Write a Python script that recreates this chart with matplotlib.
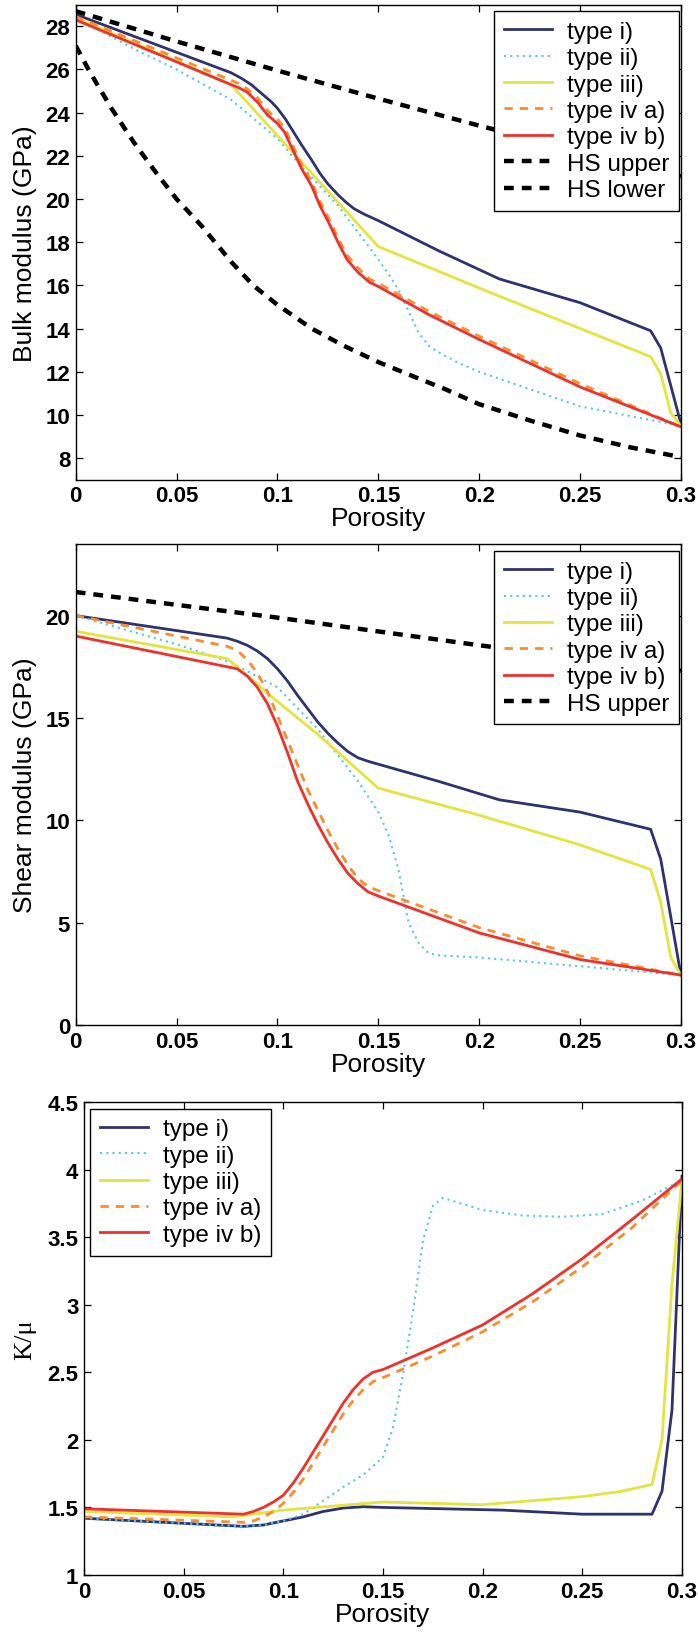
import numpy as np
import matplotlib
matplotlib.use("Agg")
from matplotlib import pyplot as plt

plt.rcParams['font.family'] = ['Liberation Sans', 'DejaVu Sans']

#colours of the five model types
c_i = '#2e3270'
c_ii = '#50c8f0'
c_iii = '#e4e43e'
c_iva = '#f98c2c'
c_ivb = '#f0302a'

#############################################
#Bulk modulus (GPa)
kx_i = [0, 0.077, 0.082, 0.087, 0.092, 0.097, 0.1, 0.104, 0.108, 0.112, 0.117, 0.121, 0.125, 0.13, 0.134, 0.138, 0.143, 0.15, 0.18, 0.21, 0.25, 0.285, 0.29, 0.3]
ky_i = [28.55, 25.85, 25.6, 25.3, 24.9, 24.5, 24.2, 23.7, 23.1, 22.5, 21.8, 21.2, 20.7, 20.2, 19.85, 19.55, 19.3, 19.0, 17.6, 16.3, 15.2, 13.9, 13.1, 9.6]
kx_ii = [0, 0.029, 0.05, 0.077, 0.1, 0.11, 0.13, 0.15, 0.156, 0.16, 0.165, 0.17, 0.175, 0.18, 0.19, 0.2, 0.25, 0.3]
ky_ii = [28.4, 26.95, 26.0, 24.6, 22.8, 21.7, 19.7, 17.2, 16.4, 15.8, 14.8, 13.8, 13.2, 12.9, 12.4, 12.0, 10.4, 9.5]
kx_iii = [0, 0.077, 0.15, 0.21, 0.285, 0.29, 0.295, 0.3]
ky_iii = [28.4, 25.3, 17.8, 15.5, 12.7, 11.9, 10.1, 9.5]
kx_iva = [0, 0.077, 0.081, 0.085, 0.09, 0.095, 0.1, 0.1035, 0.108, 0.112, 0.117, 0.121, 0.126, 0.13, 0.1345, 0.14, 0.1456, 0.15, 0.175, 0.2, 0.25, 0.3]
ky_iva = [28.45, 25.5, 25.35, 25.1, 24.7, 24.1, 23.7, 23.3, 22.4, 21.6, 20.8, 19.9, 19.0, 18.2, 17.4, 16.8, 16.3, 16.1, 14.8, 13.65, 11.45, 9.45]
kx_ivb = [0, 0.077, 0.081, 0.085, 0.09, 0.095, 0.1, 0.1035, 0.108, 0.112, 0.117, 0.121, 0.126, 0.13, 0.1345, 0.14, 0.1456, 0.15, 0.175, 0.2, 0.25, 0.3]
ky_ivb = [28.3, 25.3, 25.15, 24.95, 24.5, 23.9, 23.5, 23.1, 22.2, 21.4, 20.6, 19.7, 18.8, 18.0, 17.2, 16.6, 16.15, 15.95, 14.65, 13.5, 11.3, 9.45]
kx_hsu = [0, 0.05, 0.1, 0.15, 0.2, 0.25, 0.3]
ky_hsu = [28.7, 27.3, 25.95, 24.65, 23.4, 22.2, 21.05]
kx_hsl = [0, 0.0066, 0.0177, 0.029, 0.04, 0.05, 0.062, 0.077, 0.088, 0.1, 0.117, 0.133, 0.15, 0.167, 0.183, 0.2, 0.225, 0.25, 0.275, 0.3]
ky_hsl = [27.1, 25.95, 24.2, 22.6, 21.2, 20.0, 18.8, 17.1, 16.0, 15.1, 14.0, 13.2, 12.45, 11.8, 11.2, 10.5, 9.75, 9.05, 8.5, 8.05]

#Shear modulus (GPa)
mx_i = [0, 0.075, 0.08, 0.085, 0.09, 0.095, 0.1, 0.105, 0.11, 0.115, 0.12, 0.125, 0.13, 0.135, 0.14, 0.145, 0.15, 0.18, 0.21, 0.25, 0.285, 0.29, 0.3]
my_i = [20.0, 18.9, 18.75, 18.55, 18.27, 17.9, 17.4, 16.8, 16.1, 15.45, 14.8, 14.25, 13.77, 13.35, 13.05, 12.88, 12.74, 11.9, 11.0, 10.4, 9.56, 8.1, 2.44]
mx_ii = [0, 0.05, 0.077, 0.1, 0.12, 0.14, 0.15, 0.155, 0.16, 0.165, 0.17, 0.175, 0.18, 0.2, 0.25, 0.3]
my_ii = [20.0, 18.6, 17.7, 16.5, 14.45, 11.9, 10.4, 9.3, 7.6, 5.0, 4.0, 3.5, 3.4, 3.3, 2.87, 2.44]
mx_iii = [0, 0.075, 0.08, 0.1, 0.12, 0.15, 0.2, 0.25, 0.285, 0.29, 0.295, 0.3]
my_iii = [19.23, 17.9, 17.5, 15.8, 14.2, 11.57, 10.25, 8.8, 7.6, 6.0, 3.3, 2.44]
mx_iva = [0, 0.075, 0.08, 0.085, 0.09, 0.095, 0.1, 0.105, 0.11, 0.115, 0.12, 0.125, 0.13, 0.135, 0.14, 0.145, 0.15, 0.2, 0.25, 0.3]
my_iva = [20.0, 18.5, 18.3, 17.85, 17.2, 16.3, 15.1, 13.9, 12.7, 11.5, 10.5, 9.5, 8.6, 7.8, 7.15, 6.75, 6.56, 4.76, 3.38, 2.44]
mx_ivb = [0, 0.075, 0.08, 0.085, 0.09, 0.095, 0.1, 0.105, 0.11, 0.115, 0.12, 0.125, 0.13, 0.135, 0.14, 0.145, 0.15, 0.2, 0.25, 0.3]
my_ivb = [19.0, 17.5, 17.4, 17.05, 16.5, 15.7, 14.6, 13.3, 11.9, 10.8, 9.8, 8.9, 8.1, 7.4, 6.9, 6.5, 6.3, 4.5, 3.2, 2.44]
mx_hsu = [0, 0.1, 0.2, 0.3]
my_hsu = [21.15, 19.9, 18.55, 17.3]

#K/mu ratio
rx_i = [0, 0.08, 0.09, 0.1, 0.11, 0.12, 0.13, 0.14, 0.15, 0.21, 0.25, 0.285, 0.29, 0.295, 0.3]
ry_i = [1.42, 1.36, 1.37, 1.40, 1.43, 1.47, 1.495, 1.505, 1.5, 1.48, 1.45, 1.45, 1.62, 2.22, 3.95]
rx_ii = [0, 0.08, 0.09, 0.1, 0.11, 0.12, 0.13, 0.14, 0.15, 0.155, 0.16, 0.165, 0.17, 0.175, 0.18, 0.2, 0.22, 0.24, 0.26, 0.28, 0.3]
ry_ii = [1.42, 1.36, 1.37, 1.40, 1.45, 1.55, 1.65, 1.74, 1.87, 2.09, 2.48, 2.94, 3.47, 3.73, 3.79, 3.7, 3.66, 3.65, 3.67, 3.77, 3.92]
rx_iii = [0, 0.075, 0.1, 0.15, 0.2, 0.25, 0.27, 0.285, 0.29, 0.295, 0.3]
ry_iii = [1.47, 1.43, 1.48, 1.54, 1.52, 1.58, 1.62, 1.67, 2.0, 3.15, 3.92]
rx_iva = [0, 0.08, 0.085, 0.09, 0.095, 0.1, 0.105, 0.11, 0.115, 0.12, 0.125, 0.13, 0.135, 0.14, 0.145, 0.15, 0.175, 0.2, 0.225, 0.25, 0.275, 0.3]
ry_iva = [1.43, 1.39, 1.40, 1.43, 1.47, 1.53, 1.61, 1.71, 1.83, 1.95, 2.07, 2.19, 2.29, 2.37, 2.43, 2.46, 2.62, 2.8, 3.02, 3.28, 3.57, 3.92]
rx_ivb = [0, 0.08, 0.085, 0.09, 0.095, 0.1, 0.105, 0.11, 0.115, 0.12, 0.125, 0.13, 0.135, 0.14, 0.145, 0.15, 0.175, 0.2, 0.225, 0.25, 0.275, 0.3]
ry_ivb = [1.49, 1.45, 1.47, 1.5, 1.54, 1.59, 1.68, 1.79, 1.91, 2.03, 2.15, 2.27, 2.37, 2.45, 2.5, 2.52, 2.68, 2.85, 3.08, 3.34, 3.63, 3.93]

xticks = [0, 0.05, 0.1, 0.15, 0.2, 0.25, 0.3]
xticklabels = ['0', '0.05', '0.1', '0.15', '0.2', '0.25', '0.3']

lw = 2.0
fig = plt.figure(figsize=(6.98, 16.33), dpi=100)

def style(ax, yticks, ylim):
    ax.set_xlim(0, 0.3)
    ax.set_ylim(*ylim)
    ax.set_xticks(xticks)
    ax.set_xticklabels(xticklabels)
    ax.set_yticks(yticks)
    ax.set_yticklabels([('%g' % t) for t in yticks])
    ax.tick_params(direction='in', top=True, right=True, length=5, width=0.9,
                   labelsize=16, pad=4)
    for lab in ax.get_xticklabels() + ax.get_yticklabels():
        lab.set_fontweight('bold')
    for s in ax.spines.values():
        s.set_linewidth(1.0)
    ax.set_xlabel('Porosity', fontsize=19, labelpad=0)

def legend(ax, loc, anchor):
    leg = ax.legend(loc=loc, bbox_to_anchor=anchor, fontsize=17.5, frameon=True,
                    fancybox=False, framealpha=1, edgecolor='black',
                    handlelength=2.0, handletextpad=0.6, labelspacing=0.18,
                    borderaxespad=0, borderpad=0.4)
    leg.get_frame().set_linewidth(1.0)

#############################################
#Panel 1: bulk modulus
ax1 = fig.add_axes([0.1085, 0.7056, 0.867, 0.2909])
ax1.plot(kx_i, ky_i, color=c_i, lw=lw, label='type i)')
ax1.plot(kx_ii, ky_ii, color=c_ii, lw=1.5, ls=(0, (1, 2)), label='type ii)')
ax1.plot(kx_iii, ky_iii, color=c_iii, lw=lw, label='type iii)')
ax1.plot(kx_iva, ky_iva, color=c_iva, lw=lw, ls=(0, (3, 2.5)), label='type iv a)')
ax1.plot(kx_ivb, ky_ivb, color=c_ivb, lw=lw, label='type iv b)')
ax1.plot(kx_hsu, ky_hsu, color='black', lw=3.2, ls=(0, (2.2, 1.8)), label='HS upper')
ax1.plot(kx_hsl, ky_hsl, color='black', lw=3.2, ls=(0, (2.2, 1.8)), label='HS lower')
style(ax1, np.arange(8, 29, 2), (7, 29))
ax1.set_ylabel('Bulk modulus (GPa)', fontsize=19, labelpad=6)
legend(ax1, 'upper right', (0.9967, 0.9867))

#Panel 2: shear modulus
ax2 = fig.add_axes([0.1085, 0.3717, 0.867, 0.2946])
ax2.plot(mx_i, my_i, color=c_i, lw=lw, label='type i)')
ax2.plot(mx_ii, my_ii, color=c_ii, lw=1.5, ls=(0, (1, 2)), label='type ii)')
ax2.plot(mx_iii, my_iii, color=c_iii, lw=lw, label='type iii)')
ax2.plot(mx_iva, my_iva, color=c_iva, lw=lw, ls=(0, (3, 2.5)), label='type iv a)')
ax2.plot(mx_ivb, my_ivb, color=c_ivb, lw=lw, label='type iv b)')
ax2.plot(mx_hsu, my_hsu, color='black', lw=3.2, ls=(0, (2.2, 1.8)), label='HS upper')
style(ax2, [0, 5, 10, 15, 20], (0, 23.5))
ax2.set_ylabel('Shear modulus (GPa)', fontsize=19, labelpad=6)
legend(ax2, 'upper right', (0.9967, 0.9854))

#Panel 3: K/mu
ax3 = fig.add_axes([0.1203, 0.0349, 0.8567, 0.2897])
ax3.plot(rx_i, ry_i, color=c_i, lw=lw, label='type i)')
ax3.plot(rx_ii, ry_ii, color=c_ii, lw=1.5, ls=(0, (1, 2)), label='type ii)')
ax3.plot(rx_iii, ry_iii, color=c_iii, lw=lw, label='type iii)')
ax3.plot(rx_iva, ry_iva, color=c_iva, lw=lw, ls=(0, (3, 2.5)), label='type iv a)')
ax3.plot(rx_ivb, ry_ivb, color=c_ivb, lw=lw, label='type iv b)')
style(ax3, [1, 1.5, 2, 2.5, 3, 3.5, 4, 4.5], (1, 4.5))
ax3.set_ylabel('K/\u03bc', fontsize=19, family=['Liberation Serif', 'DejaVu Serif'], labelpad=8)
legend(ax3, 'upper left', (0.010, 0.986))

plt.savefig('out.png', dpi=100)
